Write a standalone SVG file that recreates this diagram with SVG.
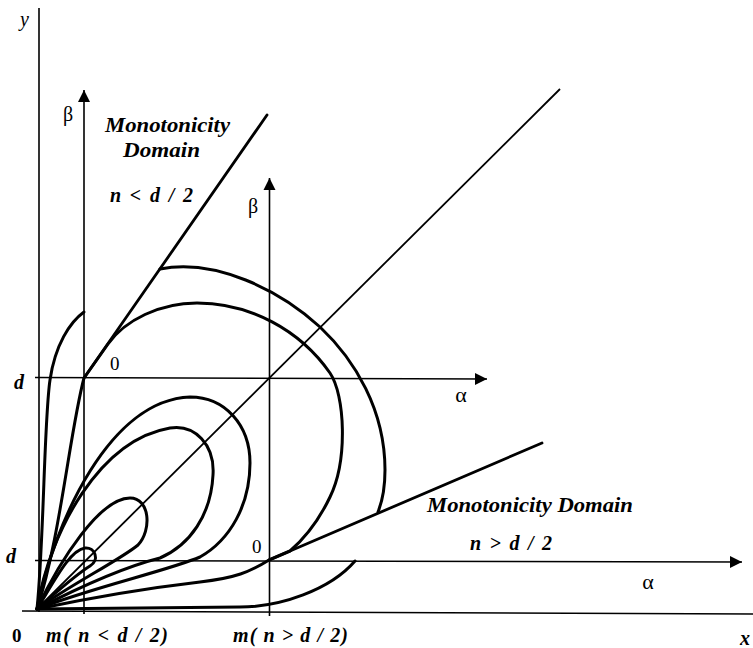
<svg xmlns="http://www.w3.org/2000/svg" width="753" height="648" viewBox="0 0 753 648">
<defs>
<marker id="ah" viewBox="0 0 12 12" refX="12" refY="6" markerWidth="12" markerHeight="13" orient="auto" markerUnits="userSpaceOnUse"><path d="M0,0 L12,6 L0,12 z" fill="#000"/></marker>
<style>
.ax{stroke:#000;stroke-width:1.6;fill:none}
.cv{stroke:#000;stroke-width:3;fill:none;stroke-linejoin:round;stroke-linecap:round}
.ln{stroke:#000;stroke-width:2.8;fill:none;stroke-linecap:round}
.dg{stroke:#000;stroke-width:1.8;fill:none}
text{font-family:"Liberation Serif","Times New Roman",serif;fill:#000}
.it{font-style:italic}
.b{font-weight:bold}
</style>
</defs>
<rect width="753" height="648" fill="#fff"/>
<g id="axes">
<line class="ax" x1="39" y1="8" x2="39" y2="612"/>
<line class="ax" x1="22" y1="611" x2="753" y2="614"/>
<line class="ax" x1="84" y1="614" x2="84" y2="90" marker-end="url(#ah)"/>
<line class="ax" x1="269.5" y1="616" x2="269.5" y2="178" marker-end="url(#ah)"/>
<line class="ax" x1="35" y1="377.5" x2="487" y2="379" marker-end="url(#ah)"/>
<line class="ax" x1="35" y1="560.5" x2="742" y2="562" marker-end="url(#ah)"/>
</g>
<g id="connectors">
<line id="diagonal" class="dg" x1="37" y1="609" x2="560" y2="89"/>
<line id="domain-line-1" class="ln" x1="84" y1="378" x2="267" y2="115"/>
<line id="domain-line-2" class="ln" x1="269" y1="560" x2="542" y2="443"/>
</g>
<g id="curves">
<path id="loop1" class="cv" d="M37,609 C55,580 70,550 85,548 C95,547 100,560 90,566 C75,575 50,598 37,609"/>
<path id="loop2" class="cv" d="M37,609 C60,560 100,498 130,498 C150,498 152,530 138,545 C120,560 70,585 37,609"/>
<path id="loop3" class="cv" d="M37,609 C50,530 100,440 170,428 C195,424 215,445 213,475 C211,515 190,545 160,558 C120,568 70,592 37,609"/>
<path id="loop4" class="cv" d="M37,609 C55,520 110,400 190,397 C225,397 250,425 250,463 C250,505 230,540 200,557 C170,570 90,588 37,609"/>
<path id="loop5" class="cv" d="M37,609 C60,540 70,430 84,378 L108,344 C125,320 160,303 197,303 C250,303 300,330 330,373 C345,395 348,460 330,497 C320,518 305,538 290,551 L269,560 C250,572 235,578 200,582 C140,589 80,600 37,609"/>
<path id="outer-left" class="cv" d="M37,609 C44,540 44,420 50,380 C55,345 70,322 84,312"/>
<path id="outer-top" class="cv" d="M160,269 C215,258 280,290 320,327 C355,360 385,410 385,470 C385,490 382,502 378,512"/>
<path id="outer-bottom" class="cv" d="M37,609 L240,607 C280,607 330,590 355,561"/>
</g>
<g id="labels">
<text class="it" x="20" y="26" font-size="20">y</text>
<text x="68" y="121" font-size="20" text-anchor="middle">β</text>
<text x="253" y="213" font-size="20" text-anchor="middle">β</text>
<text class="it b" x="105" y="132" font-size="20" textLength="125" lengthAdjust="spacingAndGlyphs">Monotonicity</text>
<text class="it b" x="123" y="157" font-size="20" textLength="77" lengthAdjust="spacingAndGlyphs">Domain</text>
<text class="it b" x="110" y="202" font-size="20" textLength="83" lengthAdjust="spacing">n &lt; d / 2</text>
<text x="110" y="370" font-size="19">0</text>
<text class="it b" x="14" y="389" font-size="20">d</text>
<text x="461" y="402" font-size="22" text-anchor="middle">α</text>
<text class="it b" x="427" y="512" font-size="20" textLength="206" lengthAdjust="spacingAndGlyphs">Monotonicity Domain</text>
<text class="it b" x="470" y="550" font-size="20" textLength="82" lengthAdjust="spacing">n &gt; d / 2</text>
<text x="252" y="553" font-size="19">0</text>
<text class="it b" x="6" y="563" font-size="20">d</text>
<text x="648" y="589" font-size="22" text-anchor="middle">α</text>
<text class="b" x="12" y="642" font-size="19">0</text>
<text class="it b" x="46" y="642" font-size="20" textLength="122" lengthAdjust="spacing">m( n &lt; d / 2)</text>
<text class="it b" x="233" y="642" font-size="20" textLength="115" lengthAdjust="spacing">m( n &gt; d / 2)</text>
<text class="it b" x="740" y="645" font-size="20">x</text>
</g>
</svg>
